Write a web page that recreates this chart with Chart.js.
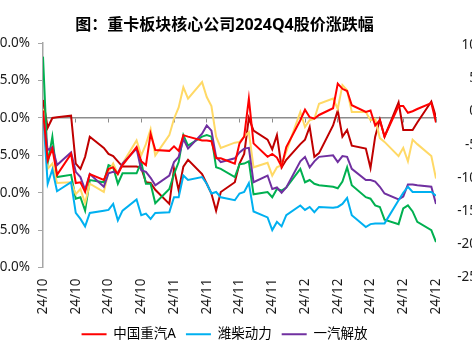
<!DOCTYPE html>
<html>
<head>
<meta charset="utf-8">
<script src="https://cdn.jsdelivr.net/npm/chart.js@4.4.1/dist/chart.umd.min.js"></script>
<style>
  html, body { margin: 0; padding: 0; background: #fff; }
  #wrap { position: relative; width: 472px; height: 351px; overflow: hidden; }
  /* the reference is a crop: axis labels run off both edges */
  #box { position: absolute; left: -28px; top: 0; width: 505px; height: 351px; }
</style>
</head>
<body>
<div id="wrap"><div id="box"><canvas id="chart"></canvas></div></div>
<script>
// Trading days, Q4 2024 (mm-dd)
const dates = [
  '10-08', '10-09', '10-10', '10-11', '10-14', '10-15', '10-16', '10-17', '10-18',
  '10-21', '10-22', '10-23', '10-24', '10-25', '10-28', '10-29', '10-30', '10-31',
  '11-01', '11-04', '11-05', '11-06', '11-07', '11-08', '11-11', '11-12', '11-13',
  '11-14', '11-15', '11-18', '11-19', '11-20', '11-21', '11-22', '11-25', '11-26',
  '11-27', '11-28', '11-29', '12-02', '12-03', '12-04', '12-05', '12-06', '12-09',
  '12-10', '12-11', '12-12', '12-13', '12-16', '12-17', '12-18', '12-19', '12-20',
  '12-23', '12-24', '12-25', '12-26', '12-27', '12-30', '12-31',
];

// Cumulative change since 09-30, %
const sinotruk = [
  1.0, -5.7, -4.1, -7.6, -4.8, -8.7, -8.6, -9.9, -7.5, -8.3, -6.8, -6.6, -7.5, -6.3, -3.9, -5.8,
  -6.3, -2.1, -4.3, -4.4, -3.8, -4.4, -2.3, -2.5, -3.0, -3.0, -3.1, -5.4, -5.4, -6.1, -3.4, -2.5,
  2.6, -3.4, -5.2, -4.8, -5.3, -6.5, -3.9, -0.3, 1.1, 0.1, -0.1, 0.4, 1.3, 4.6, 3.9, 3.6,
  1.7, 0.8, 1.0, -1.0, -0.3, -2.5, 1.6, 1.6, 0.7, 0.9, 1.2, 2.0, -0.6,
];
const weichai = [
  0.8, -8.8, -6.9, -9.8, -8.6, -12.7, -13.5, -14.5, -12.7, -12.4, -12.3, -11.5, -13.7, -12.4, -10.9, -13.0,
  -12.8, -13.5, -12.7, -12.6, -10.6, -10.6, -7.7, -8.3, -7.9, -8.8, -10.1, -9.9, -10.6, -11.0, -10.1, -9.9,
  -8.7, -12.5, -13.3, -15.0, -13.9, -14.5, -13.0, -11.7, -12.3, -11.9, -12.6, -11.9, -12.0, -11.9, -11.5, -10.7,
  -13.0, -14.6, -14.2, -14.1, -14.1, -14.1, -11.0, -10.0, -9.2, -9.9, -9.9, -9.9, -10.4,
];
const faw = [
  0.5, -4.3, -3.9, -6.3, -4.6, -7.2, -7.9, -9.6, -7.5, -9.2, -7.4, -7.2, -7.4, -6.1, -4.1, -7.0,
  -7.2, -8.0, -9.0, -7.7, -5.9, -5.2, -2.8, -4.1, -2.1, -1.0, -1.7, -5.2, -5.9, -5.4, -4.6, -4.1,
  -4.0, -8.6, -7.7, -9.5, -9.3, -10.0, -9.3, -5.8, -5.2, -6.6, -5.8, -5.2, -5.0, -5.9, -5.1, -5.2,
  -6.8, -8.3, -8.3, -8.5, -9.2, -10.1, -10.9, -10.5, -8.9, -8.9, -9.0, -9.2, -11.5,
];
// three more names drawn without legend entries (cut off in the source)
const yellowSeries = [
  1.2, -6.8, -6.1, -8.7, -8.6, -10.2, -9.5, -11.4, -8.8, -9.9, -7.2, -6.1, -7.5, -6.1, -3.0, -5.0,
  -3.5, -1.5, -5.0, -2.3, -0.1, 1.4, 4.1, 2.6, 4.8, 2.8, 1.6, -2.5, -4.0, -3.3, -3.2, -2.5,
  -1.9, -6.6, -6.0, -7.7, -6.6, -6.3, -4.5, 0.8, -1.2, -0.3, -0.1, 1.9, 2.6, 1.2, 4.4, 3.7,
  0.8, 0.8, -0.3, -0.1, -2.7, -3.2, -5.1, -4.0, -5.8, -2.9, -3.5, -5.1, -8.1,
];
const greenSeries = [
  8.2, -6.1, -2.5, -7.9, -7.6, -10.8, -10.6, -12.4, -8.3, -8.6, -6.3, -6.6, -8.8, -7.4, -7.4, -5.9,
  -8.8, -8.8, -11.4, -9.5, -7.5, -5.9, -2.3, -3.7, -2.5, -2.3, -2.5, -6.6, -6.8, -7.9, -6.2, -6.1,
  -5.8, -10.2, -9.9, -10.6, -9.5, -9.7, -9.3, -6.8, -8.6, -8.3, -8.8, -9.0, -9.2, -9.4, -8.5, -6.6,
  -9.0, -10.6, -10.8, -11.7, -11.9, -13.6, -14.2, -12.1, -11.7, -12.5, -13.9, -15.0, -16.6,
];
const darkRedSeries = [
  2.4, -1.3, 0.0, 0.1, 0.3, -6.1, -6.8, -5.2, -2.5, -4.0, -4.8, -5.1, -5.8, -6.5, -6.5, -6.7,
  -8.6, -8.7, -9.6, -11.5, -6.8, -9.7, -6.5, -5.6, -7.5, -8.8, -10.1, -12.4, -9.9, -8.6, -6.1, -4.8,
  0.0, -1.7, -2.9, -4.2, -2.3, -6.6, -5.6, -3.5, -2.9, -1.2, -5.2, -4.7, -1.0, 1.0, -2.5, -1.6,
  -3.7, -4.1, -6.7, -2.5, -0.2, -2.5, 2.1, -1.6, -1.6, -1.6, -0.6, 2.2, 0.1,
];

const leftTicks = [10, 5, 0, -5, -10, -15, -20];
const rightTicks = [10, 5, 0, -5, -10, -15, -20, -25];

// date axis: days since the first trading day, weekly ticks
const DAY = 86400000;
const t0 = Date.UTC(2024, 9, 8);
function dayOf(s) {
  const [m, d] = s.split('-').map(Number);
  return (Date.UTC(2024, m - 1, d) - t0) / DAY;
}
const xs = dates.map(dayOf);
const lastDay = xs[xs.length - 1];
function tickLabel(v) {
  const d = new Date(t0 + v * DAY);
  return '24/' + String(d.getUTCMonth() + 1).padStart(2, '0');
}
const pts = (arr) => arr.map((v, i) => ({ x: xs[i], y: v }));

function line(label, data, color) {
  return {
    label, data: pts(data),
    borderColor: color, backgroundColor: color,
    borderWidth: 2, pointRadius: 0, tension: 0,
  };
}

Chart.defaults.font.family = '"Noto Sans", "Noto Sans CJK SC", sans-serif';
Chart.defaults.font.size = 13.5;
Chart.defaults.color = '#1a1a1a';

new Chart(document.getElementById('chart'), {
  type: 'line',
  data: {
    datasets: [
      line('中国重汽A', sinotruk, '#ff0000'),
      line('潍柴动力', weichai, '#00b0f0'),
      line('一汽解放', faw, '#7030a0'),
      line('', yellowSeries, '#ffd966'),
      line('', greenSeries, '#00b050'),
      line('', darkRedSeries, '#c00000'),
    ],
  },
  options: {
    responsive: true,
    maintainAspectRatio: false,
    animation: false,
    layout: { padding: 0 },
    scales: {
      x: {
        type: 'linear', min: 0, max: lastDay,
        border: { display: false },
        grid: { display: false, drawTicks: false },
        ticks: {
          stepSize: 7, autoSkip: false, minRotation: 90, maxRotation: 90,
          padding: 11, callback: tickLabel,
        },
        afterFit: (s) => { s.height = 50; },
      },
      // zero line with weekly tick marks
      x2: {
        type: 'linear', axis: 'x', min: 0, max: lastDay, position: { y: 0 },
        border: { color: '#8c8c8c', width: 1.5 },
        grid: { drawOnChartArea: false, color: '#8c8c8c', tickLength: 4 },
        ticks: { stepSize: 7, display: false },
      },
      y: {
        position: 'left', min: -20, max: 10,
        border: { color: '#a6a6a6', width: 1.5 },
        grid: { drawOnChartArea: false, color: '#a6a6a6', tickLength: 5 },
        ticks: { padding: 8, callback: (v) => v.toFixed(1) + '%' },
        afterBuildTicks: (s) => { s.ticks = leftTicks.map((v) => ({ value: v })); },
        afterFit: (s) => { s.width = 71; },
      },
      y2: {
        position: 'right', min: -23.49, max: 10.3,
        border: { display: false },
        grid: { display: false, drawTicks: false },
        ticks: { crossAlign: 'far', autoSkip: false, padding: 0 },
        afterBuildTicks: (s) => { s.ticks = rightTicks.map((v) => ({ value: v })); },
        afterFit: (s) => { s.width = 41; },
      },
    },
    plugins: {
      title: {
        display: true,
        text: '图：重卡板块核心公司2024Q4股价涨跌幅',
        color: '#000',
        font: { size: 16, weight: 'bold' },
        padding: { top: 16, bottom: 8 },
      },
      legend: {
        position: 'bottom',
        labels: {
          usePointStyle: true, pointStyle: 'line', pointStyleWidth: 25,
          padding: 10, color: '#000',
          filter: (item) => item.datasetIndex < 3,
        },
      },
      tooltip: { enabled: false },
    },
  },
});
</script>
</body>
</html>
